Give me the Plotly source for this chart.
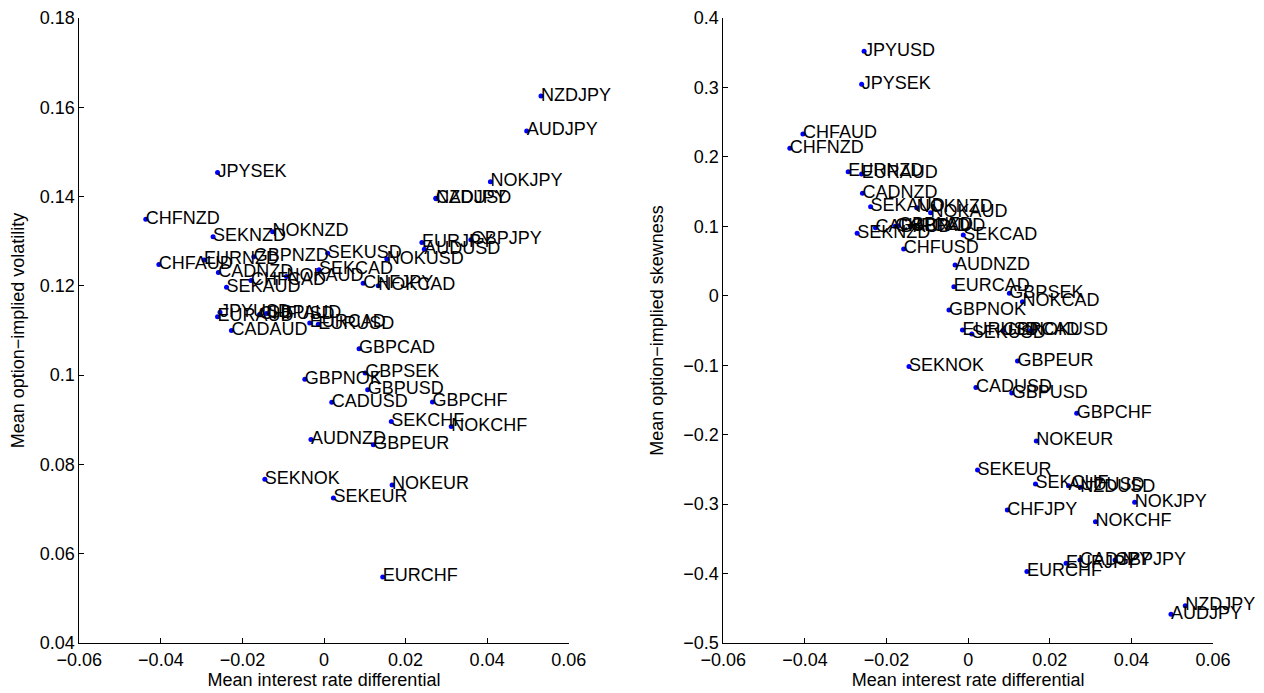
import plotly.graph_objects as go

pairs = ["NZDJPY", "AUDJPY", "NOKJPY", "CADJPY", "NZDUSD", "EURJPY", "GBPJPY", "AUDUSD",
         "NOKUSD", "SEKUSD", "SEKCAD", "CHFJPY", "NOKCAD", "GBPCAD", "EURCAD", "EURUSD",
         "JPYSEK", "CHFNZD", "SEKNZD", "NOKNZD", "GBPNZD", "CHFAUD", "EURNZD", "CADNZD",
         "CHFCAD", "NOKAUD", "SEKAUD", "JPYUSD", "EURAUD", "GBPAUD", "CHFUSD", "CADAUD",
         "GBPSEK", "GBPNOK", "GBPUSD", "CADUSD", "GBPCHF", "SEKCHF", "NOKCHF", "AUDNZD",
         "GBPEUR", "SEKNOK", "NOKEUR", "SEKEUR", "EURCHF"]

rate_diff = [0.0532, 0.0497, 0.0408, 0.0274, 0.0275, 0.0240, 0.0360, 0.0246,
             0.0154, 0.0009, -0.0012, 0.0096, 0.0133, 0.0086, -0.0035, -0.0014,
             -0.0261, -0.0437, -0.0272, -0.0126, -0.0172, -0.0405, -0.0294, -0.0259,
             -0.0179, -0.0092, -0.0239, -0.0255, -0.0261, -0.0141, -0.0158, -0.0227,
             0.0101, -0.0047, 0.0107, 0.0019, 0.0266, 0.0165, 0.0312, -0.0032,
             0.0121, -0.0145, 0.0167, 0.0023, 0.0144]

volatility = [0.1625, 0.1547, 0.1433, 0.1396, 0.1395, 0.1297, 0.1303, 0.1282,
              0.1260, 0.1273, 0.1236, 0.1206, 0.1200, 0.1059, 0.1117, 0.1114,
              0.1454, 0.1349, 0.1310, 0.1321, 0.1265, 0.1248, 0.1258, 0.1230,
              0.1212, 0.1221, 0.1197, 0.1141, 0.1131, 0.1138, 0.1136, 0.1100,
              0.1005, 0.0991, 0.0967, 0.0939, 0.0940, 0.0896, 0.0885, 0.0856,
              0.0844, 0.0767, 0.0754, 0.0725, 0.0548]

skewness = [-0.4463, -0.4587, -0.2974, -0.3805, -0.2758, -0.3850, -0.3805, -0.2735,
            -0.0500, -0.0550, 0.0875, -0.3085, -0.0085, -0.0500, 0.0131, -0.0493,
            0.3045, 0.2123, 0.0900, 0.1269, 0.1010, 0.2330, 0.1787, 0.1476,
            0.1000, 0.1197, 0.1283, 0.3520, 0.1754, 0.1000, 0.0674, 0.0980,
            0.0036, -0.0205, -0.1400, -0.1320, -0.1690, -0.2710, -0.3253, 0.0443,
            -0.0940, -0.1020, -0.2090, -0.2510, -0.3970]

FONT = "Liberation Sans, Arial, Helvetica, sans-serif"
FS = 18

fig = go.Figure()
for xa, ya, yvals in (("x", "y", volatility), ("x2", "y2", skewness)):
    fig.add_trace(go.Scatter(
        x=rate_diff, y=yvals, mode="markers", cliponaxis=False,
        marker=dict(color="#0000ff", size=5),
        xaxis=xa, yaxis=ya, showlegend=False, hoverinfo="skip"))
    fig.add_trace(go.Scatter(
        x=rate_diff, y=yvals, text=pairs, mode="text",
        textposition="middle right", cliponaxis=False,
        marker=dict(size=1),
        textfont=dict(family=FONT, size=FS, color="black"),
        xaxis=xa, yaxis=ya, showlegend=False, hoverinfo="skip"))

W, H = 1264, 693
OFF = 8  # page body margin
ax_common = dict(showline=True, linecolor="black", linewidth=1, ticks="inside",
                 ticklen=5, tickcolor="black", showgrid=False, zeroline=False,
                 mirror=False, automargin=False,
                 tickfont=dict(family=FONT, size=FS, color="black"))

ydom = [(H - (643 - OFF)) / H, (H - (18 - OFF)) / H]

fig.update_layout(
    width=W, height=H, margin=dict(l=0, r=0, t=0, b=0),
    paper_bgcolor="white", plot_bgcolor="white",
    font=dict(family=FONT, size=FS, color="black"),
    xaxis=dict(domain=[(79.3 - OFF) / W, (568.7 - OFF) / W], range=[-0.06, 0.06],
               dtick=0.02, anchor="y",
               title=dict(text="Mean interest rate differential", standoff=3,
                          font=dict(family=FONT, size=FS)), **ax_common),
    yaxis=dict(domain=ydom, range=[0.04, 0.18], dtick=0.02, anchor="x",
               title=dict(text="Mean option\u2212implied volatility", standoff=11,
                          font=dict(family=FONT, size=FS)), **ax_common),
    xaxis2=dict(domain=[(723.3 - OFF) / W, (1213 - OFF) / W], range=[-0.06, 0.06],
                dtick=0.02, anchor="y2",
                title=dict(text="Mean interest rate differential", standoff=3,
                           font=dict(family=FONT, size=FS)), **ax_common),
    yaxis2=dict(domain=ydom, range=[-0.5, 0.4], dtick=0.1, anchor="x2",
                title=dict(text="Mean option\u2212implied skewness", standoff=14,
                           font=dict(family=FONT, size=FS)), **ax_common),
)

fig.write_html("out.html")
